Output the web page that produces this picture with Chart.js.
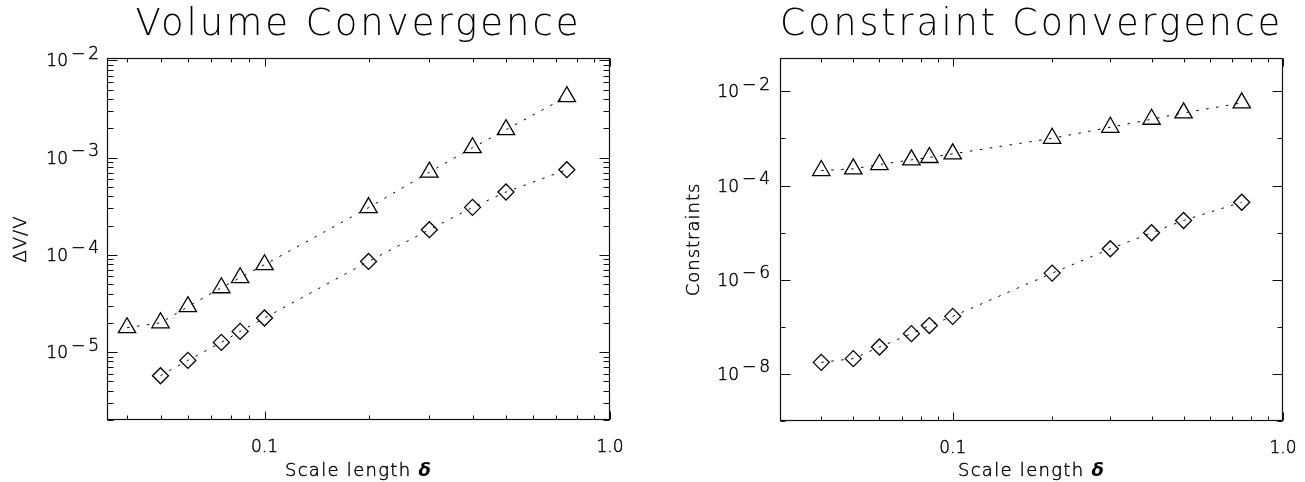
<!DOCTYPE html>
<html>
<head>
<meta charset="utf-8">
<script src="https://cdn.jsdelivr.net/npm/chart.js@4.4.1/dist/chart.umd.min.js"></script>
<style>
html,body{margin:0;padding:0;background:#fff;}
#wrap{position:relative;width:1305px;height:482px;overflow:hidden;}
#c1{position:absolute;left:0;top:0;}
#c2{position:absolute;left:650px;top:0;}
</style>
</head>
<body>
<div id="wrap">
<canvas id="c1" width="650" height="482"></canvas>
<canvas id="c2" width="655" height="482"></canvas>
</div>
<script>
// ---------- data ----------
const scaleLength   = [0.04, 0.05, 0.06, 0.075, 0.085, 0.1, 0.2, 0.3, 0.4, 0.5, 0.75];
const volTriangleX  = [0.04, 0.05, 0.06, 0.075, 0.085, 0.1, 0.2, 0.3, 0.4, 0.5, 0.75];
const volTriangles  = [1.78e-5, 2.0e-5, 2.93e-5, 4.59e-5, 5.82e-5, 7.92e-5, 3.06e-4, 7.09e-4, 1.266e-3, 1.94e-3, 4.24e-3];
const volDiamondX   = [0.05, 0.06, 0.075, 0.085, 0.1, 0.2, 0.3, 0.4, 0.5, 0.75];
const volDiamonds   = [5.71e-6, 8.21e-6, 1.257e-5, 1.631e-5, 2.24e-5, 8.56e-5, 1.815e-4, 3.08e-4, 4.43e-4, 7.52e-4];
const conTriangles  = [2.08e-4, 2.26e-4, 2.79e-4, 3.51e-4, 3.93e-4, 4.70e-4, 1.007e-3, 1.724e-3, 2.55e-3, 3.48e-3, 5.68e-3];
const conDiamonds   = [1.76e-8, 2.11e-8, 3.72e-8, 7.16e-8, 1.063e-7, 1.666e-7, 1.38e-6, 4.54e-6, 9.93e-6, 1.81e-5, 4.42e-5];

const xTickValues   = [0.1, 1.0];
const xTickLabels   = ['0.1', '1.0'];
const xMinorValues  = [0.03, 0.04, 0.05, 0.06, 0.07, 0.08, 0.09, 0.2, 0.3, 0.4, 0.5, 0.6, 0.7, 0.8, 0.9];
const volYExponents = [-2, -3, -4, -5];
const conYExponents = [-2, -4, -6, -8];
const conYMinorExp  = [-3, -5, -7, -9];

const FONT = '"DejaVu Sans", "Liberation Sans", sans-serif';

function volMinorY() {
  const out = [];
  for (let e = -6; e <= -3; e++) for (let m = 2; m <= 9; m++) out.push(m * Math.pow(10, e));
  return out;
}

function text(ctx, s, x, y) {
  ctx.fillText(s, x, y);
  ctx.strokeText(s, x, y);
}

function framePlugin(spec) {
  return {
    id: 'frame',
    beforeDraw(chart) { chart.ctx.letterSpacing = '3px'; },
    beforeDatasetsDraw(chart) { chart.ctx.letterSpacing = '0px'; },
    afterDraw(chart) {
      const ctx = chart.ctx, a = chart.chartArea, sx = chart.scales.x, sy = chart.scales.y;
      const L = Math.round(a.left) + 0.5, R = Math.round(a.right) - 0.5;
      const T = Math.round(a.top) + 0.5, B = Math.round(a.bottom) - 0.5;
      ctx.save();
      ctx.letterSpacing = '0px';
      ctx.strokeStyle = '#111';
      ctx.lineWidth = 1.2;
      ctx.strokeRect(L, T, R - L, B - T);
      const seg = (x1, y1, x2, y2) => { ctx.beginPath(); ctx.moveTo(x1, y1); ctx.lineTo(x2, y2); ctx.stroke(); };
      ctx.lineWidth = 1;
      const xmin = sx.min, xmax = sx.max, ymin = sy.min, ymax = sy.max;
      xMinorValues.forEach(v => {
        if (v <= xmin || v >= xmax) return;
        const p = Math.round(sx.getPixelForValue(v)) + 0.5;
        seg(p, B, p, B - 4); seg(p, T, p, T + 4);
      });
      xTickValues.forEach(v => {
        if (v < xmin || v > xmax) return;
        const p = Math.round(sx.getPixelForValue(v)) + 0.5;
        seg(p, B, p, B - 8); seg(p, T, p, T + 8);
      });
      spec.yMinor.forEach(v => {
        if (v < ymin || v > ymax) return;
        const p = Math.round(sy.getPixelForValue(v)) + 0.5;
        seg(L, p, L + spec.minorLen, p); seg(R, p, R - spec.minorLen, p);
      });
      spec.yExp.forEach(e => {
        const p = Math.round(sy.getPixelForValue(Math.pow(10, e))) + 0.5;
        seg(L, p, L + 10, p); seg(R, p, R - 10, p);
      });
      // tick labels
      ctx.fillStyle = '#000';
      ctx.strokeStyle = '#000';
      ctx.lineWidth = 0.45;
      ctx.font = '200 17px ' + FONT;
      ctx.textBaseline = 'alphabetic';
      ctx.textAlign = 'center';
      xTickValues.forEach((v, i) => {
        text(ctx, xTickLabels[i], sx.getPixelForValue(v), a.bottom + 31.5);
      });
      spec.yExp.forEach(e => {
        const p = sy.getPixelForValue(Math.pow(10, e));
        ctx.letterSpacing = '0px';
        ctx.textAlign = 'right';
        text(ctx, '10', a.left - spec.labOff, p + 6);
        ctx.letterSpacing = '3px';
        ctx.textAlign = 'left';
        text(ctx, '\u2212' + Math.abs(e), a.left - spec.labOff + 3, p - 1.5);
      });
      // x axis title
      ctx.letterSpacing = '1.3px';
      ctx.font = '200 18px ' + FONT;
      const t1 = 'Scale length ';
      const w1 = ctx.measureText(t1).width;
      ctx.font = 'italic bold 18px ' + FONT;
      const w2 = ctx.measureText('\u03B4').width;
      const cx = (a.left + a.right) / 2;
      const x0 = cx - (w1 + w2) / 2;
      ctx.textAlign = 'left';
      ctx.font = '200 18px ' + FONT;
      text(ctx, t1, x0, 476);
      ctx.font = 'italic bold 18px ' + FONT;
      ctx.fillText('\u03B4', x0 + w1, 476);
      // y axis title
      ctx.save();
      ctx.translate(spec.yTitleX, (a.top + a.bottom) / 2);
      ctx.rotate(-Math.PI / 2);
      ctx.font = '200 18px ' + FONT;
      ctx.letterSpacing = '1px';
      ctx.textAlign = 'center';
      ctx.textBaseline = 'alphabetic';
      text(ctx, spec.yTitle, 0, 0);
      ctx.restore();
      ctx.restore();
    }
  };
}

function dataset(xs, ys, style, radius) {
  return {
    data: xs.map((x, i) => ({ x: x, y: ys[i] })),
    showLine: true,
    borderColor: '#000',
    borderWidth: 1,
    borderDash: [2.5, 7.5],
    pointStyle: style,
    pointRadius: radius,
    pointBorderWidth: 1.3,
    pointBorderColor: '#000',
    pointBackgroundColor: 'rgba(0,0,0,0)',
    fill: false,
    tension: 0
  };
}

function makeChart(id, cfg) {
  return new Chart(document.getElementById(id), {
    type: 'line',
    data: { datasets: cfg.datasets },
    options: {
      responsive: false,
      animation: false,
      events: [],
      layout: { padding: cfg.padding },
      plugins: {
        legend: { display: false },
        tooltip: { enabled: false },
        title: {
          display: true,
          text: cfg.title,
          color: '#000',
          fullSize: false,
          font: { family: FONT, size: 37, weight: 200, lineHeight: 1.2 },
          padding: { top: 3.3, bottom: 10.3 }
        }
      },
      scales: {
        x: { type: 'logarithmic', min: cfg.xmin, max: cfg.xmax, display: false },
        y: { type: 'logarithmic', min: cfg.ymin, max: cfg.ymax, display: false }
      }
    },
    plugins: [framePlugin(cfg.frame)]
  });
}

makeChart('c1', {
  title: 'Volume Convergence',
  datasets: [
    dataset(volTriangleX, volTriangles, 'triangle', 10),
    dataset(volDiamondX, volDiamonds, 'rectRot', 8)
  ],
  padding: { left: 107, right: 40, top: 0, bottom: 62 },
  xmin: 0.035, xmax: 1.0, ymin: 2e-6, ymax: 0.0106,
  frame: { yExp: volYExponents, yMinor: volMinorY(), minorLen: 6, labOff: 39, yTitle: '\u0394V/V', yTitleX: 25.5 }
});

makeChart('c2', {
  title: 'Constraint Convergence',
  datasets: [
    dataset(scaleLength, conTriangles, 'triangle', 10),
    dataset(scaleLength, conDiamonds, 'rectRot', 8)
  ],
  padding: { left: 130, right: 22, top: 0, bottom: 61 },
  xmin: 0.03, xmax: 1.0, ymin: 1e-9, ymax: 0.051,
  frame: { yExp: conYExponents, yMinor: conYMinorExp.map(e => Math.pow(10, e)), minorLen: 5, labOff: 41, yTitle: 'Constraints', yTitleX: 48.5 }
});
</script>
</body>
</html>
